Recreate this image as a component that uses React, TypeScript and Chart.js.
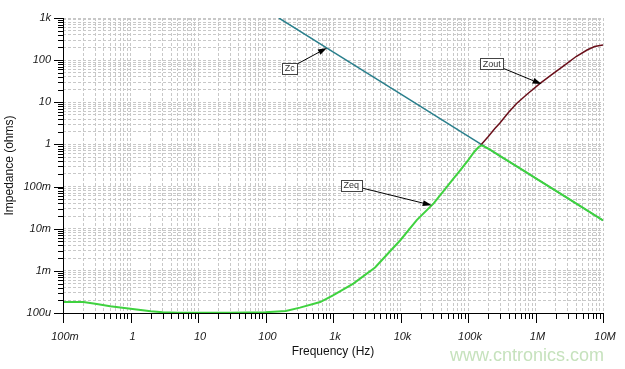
import { useEffect, useRef } from "react";
import { Chart, registerables } from "chart.js";

Chart.register(...registerables);

// ---- axis ranges and tick labels ----
const xMin = 0.1;
const xMax = 1e7;
const yMin = 1e-4;
const yMax = 1e3;
const xTickValues = [0.1, 1, 10, 100, 1e3, 1e4, 1e5, 1e6, 1e7];
const xTickLabels = ["100m", "1", "10", "100", "1k", "10k", "100k", "1M", "10M"];
const yTickValues = [1e-4, 1e-3, 1e-2, 0.1, 1, 10, 100, 1e3];
const yTickLabels = ["100u", "1m", "10m", "100m", "1", "10", "100", "1k"];

// ---- series ----
const zcFreq = [158, 1000, 10000, 100000, 1000000, 10000000];
const zcImp = [1000, 158, 15.8, 1.58, 0.158, 0.0158];

const zeqFreq = [
  0.1, 0.2, 0.3, 0.5, 1, 2, 3, 5, 10, 30, 100, 200, 324, 646, 1000, 2000, 4200,
  10000, 17400, 31000, 60000, 76000, 100000, 125000, 145000, 160000, 200000,
  300000, 650000, 1000000, 3000000, 10000000,
];
const zeqImp = [
  1.82e-4, 1.82e-4, 1.66e-4, 1.45e-4, 1.26e-4, 1.1e-4, 1.04e-4, 1.02e-4, 1.01e-4,
  1.01e-4, 1.04e-4, 1.12e-4, 1.34e-4, 1.82e-4, 2.63e-4, 5.0e-4, 1.2e-3, 5.4e-3,
  0.016, 0.04, 0.15, 0.24, 0.42, 0.68, 0.88, 0.95, 0.8, 0.53, 0.245, 0.158, 0.053,
  0.0158,
];

const zoutFreq = [
  155000, 200000, 250000, 295000, 400000, 525000, 750000, 1170000, 1700000,
  2900000, 4000000, 5800000, 7500000, 10000000,
];
const zoutImp = [0.97, 1.55, 2.4, 3.2, 5.8, 9.4, 15.5, 28, 44, 83, 122, 174, 210, 229];

// ---- annotations (callout labels with arrows) ----
const annLabels = ["Zc", "Zout", "Zeq"];
const annBoxFreq = [229, 224000, 1860];
const annBoxImp = [65, 83, 0.107];
const annTipFreq = [813, 1230000, 29000];
const annTipImp = [195, 27, 0.036];

const watermark = "www.cntronics.com";

const FONT = "'Liberation Sans', Arial, sans-serif";

function logTicks(min: number, max: number) {
  const out: { value: number }[] = [];
  const d0 = Math.round(Math.log10(min));
  const d1 = Math.round(Math.log10(max));
  for (let d = d0; d < d1; d++) {
    for (let m = 1; m <= 9; m++) {
      out.push({ value: parseFloat((m * Math.pow(10, d)).toPrecision(6)) });
    }
  }
  out.push({ value: max });
  return out;
}

function isDecade(v: number) {
  const l = Math.log10(v);
  return Math.abs(l - Math.round(l)) < 1e-6;
}

function labelFor(v: number, values: number[], labels: string[]) {
  for (let i = 0; i < values.length; i++) {
    if (Math.abs(v - values[i]) / values[i] < 1e-6) return labels[i];
  }
  return "";
}

function pts(xs: number[], ys: number[]) {
  return xs.map((x, i) => ({ x, y: ys[i] }));
}

const decorPlugin = {
  id: "decor",
  afterDraw(chart: any) {
    const ctx = chart.ctx;
    const xs = chart.scales.x;
    const ys = chart.scales.y;
    const area = chart.chartArea;
    ctx.save();
    ctx.setLineDash([]);
    ctx.globalAlpha = 1;
    ctx.fillStyle = "#000";
    const b = Math.round(area.bottom);
    const l = Math.round(area.left);
    const t0 = Math.round(area.top);
    const r = Math.round(area.right);
    // axis lines
    ctx.fillRect(l, t0, 1, b - t0 + 1);
    ctx.fillRect(l, b, r - l + 1, 1);
    // tick marks
    for (const t of xs.ticks) {
      const px = Math.round(xs.getPixelForValue(t.value));
      const len = isDecade(t.value) ? 10 : 6;
      ctx.fillRect(px, b, 1, len);
    }
    for (const t of ys.ticks) {
      const py = Math.round(ys.getPixelForValue(t.value));
      const len = isDecade(t.value) ? 9 : 5;
      ctx.fillRect(l - len, py, len, 1);
    }

    // annotations
    ctx.font = `9px ${FONT}`;
    for (let i = 0; i < annLabels.length; i++) {
      const cx = xs.getPixelForValue(annBoxFreq[i]);
      const cy = ys.getPixelForValue(annBoxImp[i]);
      const tx = xs.getPixelForValue(annTipFreq[i]);
      const ty = ys.getPixelForValue(annTipImp[i]);
      const tw = ctx.measureText(annLabels[i]).width;
      const hw = tw / 2 + 2.5;
      const hh = 5.5;
      const dx = tx - cx;
      const dy = ty - cy;
      const t = Math.min(Math.abs(hw / dx), Math.abs(hh / dy));
      const sx = cx + dx * t;
      const sy = cy + dy * t;
      ctx.strokeStyle = "#000";
      ctx.lineWidth = 1;
      ctx.beginPath();
      ctx.moveTo(sx, sy);
      const ang = Math.atan2(ty - sy, tx - sx);
      const alen = 9;
      const bx = tx - alen * Math.cos(ang);
      const by = ty - alen * Math.sin(ang);
      ctx.lineTo(bx, by);
      ctx.stroke();
      ctx.fillStyle = "#000";
      ctx.beginPath();
      ctx.moveTo(tx, ty);
      ctx.lineTo(bx + 3 * Math.sin(ang), by - 3 * Math.cos(ang));
      ctx.lineTo(bx - 3 * Math.sin(ang), by + 3 * Math.cos(ang));
      ctx.closePath();
      ctx.fill();
      const bxl = Math.round(cx - hw) + 0.5;
      const byt = Math.round(cy - hh) + 0.5;
      ctx.fillStyle = "#fff";
      ctx.fillRect(bxl, byt, Math.round(hw * 2), Math.round(hh * 2));
      ctx.strokeStyle = "#444";
      ctx.strokeRect(bxl, byt, Math.round(hw * 2), Math.round(hh * 2));
      ctx.fillStyle = "#333";
      ctx.textAlign = "center";
      ctx.textBaseline = "middle";
      ctx.fillText(annLabels[i], cx, cy + 0.5);
    }

    ctx.font = `18px ${FONT}`;
    ctx.fillStyle = "#c6e2bd";
    ctx.textAlign = "left";
    ctx.textBaseline = "alphabetic";
    ctx.fillText(watermark, 450, 361);
    ctx.restore();
  },
};

export default function App() {
  const ref = useRef<HTMLCanvasElement | null>(null);
  useEffect(() => {
    if (!ref.current) return;
    const chart = new Chart(ref.current, {
      type: "line",
      data: {
        datasets: [
          {
            label: "Zeq",
            data: pts(zeqFreq, zeqImp),
            borderColor: "#3fd23f",
            borderWidth: 2,
            pointRadius: 0,
            tension: 0,
            order: 1,
          },
          {
            label: "Zout",
            data: pts(zoutFreq, zoutImp),
            borderColor: "#6a0f1a",
            borderWidth: 1.5,
            pointRadius: 0,
            tension: 0,
            order: 2,
          },
          {
            label: "Zc",
            data: pts(zcFreq, zcImp),
            borderColor: "#2a7f8c",
            borderWidth: 1.5,
            pointRadius: 0,
            tension: 0,
            order: 3,
          },
        ],
      },
      options: {
        responsive: false,
        animation: false,
        devicePixelRatio: 1,
        layout: { padding: { top: 18, right: 22, left: 0, bottom: 0 } },
        plugins: {
          legend: { display: false },
          tooltip: { enabled: false },
        },
        scales: {
          x: {
            type: "logarithmic",
            min: xMin,
            max: xMax,
            afterBuildTicks: (s: any) => {
              s.ticks = logTicks(xMin, xMax);
            },
            afterFit: (s: any) => {
              s.height = 56;
              s.paddingLeft = 0;
              s.paddingRight = 0;
            },
            grid: { color: "#c8c8c8", lineWidth: 1, drawTicks: false },
            border: { display: false, dash: [3, 2] },
            ticks: {
              autoSkip: false,
              maxRotation: 0,
              minRotation: 0,
              padding: 17,
              labelOffset: 2,
              color: "#1a1a1a",
              font: { family: FONT, size: 11, style: "italic" },
              callback: (v: any) => labelFor(Number(v), xTickValues, xTickLabels),
            },
            title: {
              display: true,
              text: "Frequency (Hz)",
              color: "#111",
              font: { family: FONT, size: 12 },
              padding: { top: 0, bottom: 10 },
            },
          },
          y: {
            type: "logarithmic",
            min: yMin,
            max: yMax,
            afterBuildTicks: (s: any) => {
              s.ticks = logTicks(yMin, yMax);
            },
            afterFit: (s: any) => {
              s.width = 63;
              s.paddingTop = 0;
              s.paddingBottom = 0;
            },
            grid: { color: "#c8c8c8", lineWidth: 1, drawTicks: false },
            border: { display: false, dash: [3, 2] },
            ticks: {
              autoSkip: false,
              padding: 12,
              color: "#1a1a1a",
              font: { family: FONT, size: 11, style: "italic" },
              callback: (v: any) => labelFor(Number(v), yTickValues, yTickLabels),
            },
            title: {
              display: true,
              text: "Impedance (ohms)",
              color: "#111",
              font: { family: FONT, size: 12 },
              padding: { top: 2, bottom: 0 },
            },
          },
        },
      },
      plugins: [decorPlugin],
    } as any);
    return () => chart.destroy();
  }, []);
  return (
    <div style={{ position: "absolute", left: 0, top: 0, width: 625, height: 369, background: "#fff" }}>
      <canvas ref={ref} width={625} height={369} />
    </div>
  );
}
